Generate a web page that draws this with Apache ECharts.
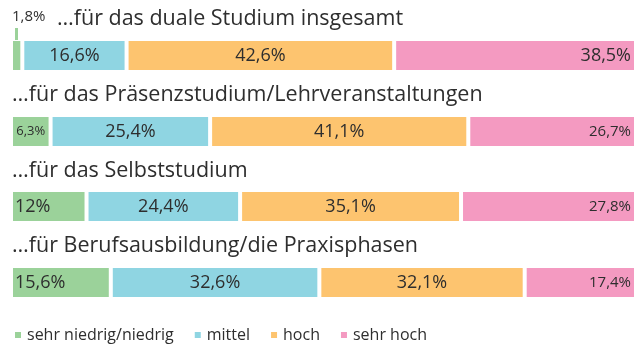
<!DOCTYPE html>
<html>
<head>
<meta charset="utf-8">
<script src="https://cdn.jsdelivr.net/npm/echarts@6/dist/echarts.min.js"></script>
<style>
  html, body { margin: 0; padding: 0; background: #fff; }
  #chart { width: 636px; height: 344px; }
</style>
</head>
<body>
<div id="chart"></div>
<script>
// Row headings (one stacked bar per row)
const rowTitles = [
  '…für das duale Studium insgesamt',
  '…für das Präsenzstudium/Lehrveranstaltungen',
  '…für das Selbststudium',
  '…für Berufsausbildung/die Praxisphasen'
];

// Rating levels (legend entries)
const levelNames = ['sehr niedrig/niedrig', 'mittel', 'hoch', 'sehr hoch'];

// Shares in percent, one value per row
const niedrig  = [1.8, 6.3, 12, 15.6];
const mittel   = [16.6, 25.4, 24.4, 32.6];
const hoch     = [42.6, 41.1, 35.1, 32.1];
const sehrHoch = [38.5, 26.7, 27.8, 17.4];

const levelValues = [niedrig, mittel, hoch, sehrHoch];
const levelColors = ['#9bd29a', '#8fd5e2', '#fdc46f', '#f49ac1'];

const FONT = "'Open Sans', sans-serif";
const TEXT = '#2e2e2e';

// Label placement per level and row: 'c' centre, 'l' inside left,
// 'r' inside right, 's' small centre, 'rs' small inside right, 'top' above with leader
const labelPlacement = [
  ['top', 's', 'l', 'l'],
  ['c', 'c', 'c', 'c'],
  ['c', 'c', 'c', 'c'],
  ['r', 'rs', 'rs', 'rs']
];

// Vertical position of each row's bar (top edge) and heading
const barTops = [40, 116, 191, 267];
const titleTops = [8, 84, 160, 235];
const titleLefts = [57, 12, 12, 12];

const fmt = v => String(v).replace('.', ',') + '%';

function labelFor(kind, color) {
  const base = { show: true, color: TEXT, fontFamily: FONT, fontWeight: 500, formatter: p => fmt(p.value) };
  switch (kind) {
    case 'c':  return Object.assign(base, { position: 'inside', fontSize: 18 });
    case 's':  return Object.assign(base, { position: 'inside', fontSize: 13 });
    case 'l':  return Object.assign(base, { position: 'insideLeft', distance: 4, fontSize: 18 });
    case 'r':  return Object.assign(base, { position: 'insideRight', distance: 5, fontSize: 18 });
    case 'rs': return Object.assign(base, { position: 'insideRight', distance: 5, fontSize: 15 });
    case 'top':
      return Object.assign(base, {
        position: [1, 1],
        align: 'left',
        verticalAlign: 'bottom',
        formatter: p => '{v|' + fmt(p.value) + '}\n{s| }{l| }',
        rich: {
          v: { fontSize: 15, fontFamily: FONT, fontWeight: 500, color: TEXT, lineHeight: 23 },
          s: { width: 3, height: 12, lineHeight: 12, fontSize: 1, color: 'transparent' },
          l: { width: 3, height: 12, lineHeight: 12, fontSize: 1, color: 'transparent', backgroundColor: color }
        }
      });
  }
}

const grids = [], xAxes = [], yAxes = [], series = [], titles = [];

rowTitles.forEach((title, i) => {
  const rowSum = levelValues.reduce((s, arr) => s + arr[i], 0);
  grids.push({ left: 11, width: 626, top: barTops[i] - 1, height: 33 });
  xAxes.push({ type: 'value', gridIndex: i, min: 0, max: rowSum, show: false });
  yAxes.push({ type: 'category', gridIndex: i, data: [title], show: false });
  titles.push({
    text: title, left: titleLefts[i], top: titleTops[i], padding: 0,
    textStyle: { fontFamily: FONT, fontSize: 21.5, fontWeight: 500, color: TEXT }
  });
  levelValues.forEach((arr, l) => {
    series.push({
      type: 'bar',
      name: levelNames[l],
      xAxisIndex: i,
      yAxisIndex: i,
      stack: 'row' + i,
      barWidth: 33,
      silent: true,
      itemStyle: { color: levelColors[l], borderColor: '#ffffff', borderWidth: 2 },
      label: labelFor(labelPlacement[l][i], levelColors[l]),
      data: [arr[i]]
    });
  });
});

const chart = echarts.init(document.getElementById('chart'), null, { renderer: 'canvas' });
chart.setOption({
  animation: false,
  color: levelColors,
  title: titles,
  grid: grids,
  xAxis: xAxes,
  yAxis: yAxes,
  legend: {
    data: levelNames,
    left: 13,
    top: 327,
    padding: 0,
    icon: 'rect',
    itemWidth: 8,
    itemHeight: 8,
    itemGap: 19,
    selectedMode: false,
    textStyle: { fontFamily: FONT, fontSize: 16, fontWeight: 500, color: TEXT }
  },
  series: series
});
</script>
</body>
</html>
